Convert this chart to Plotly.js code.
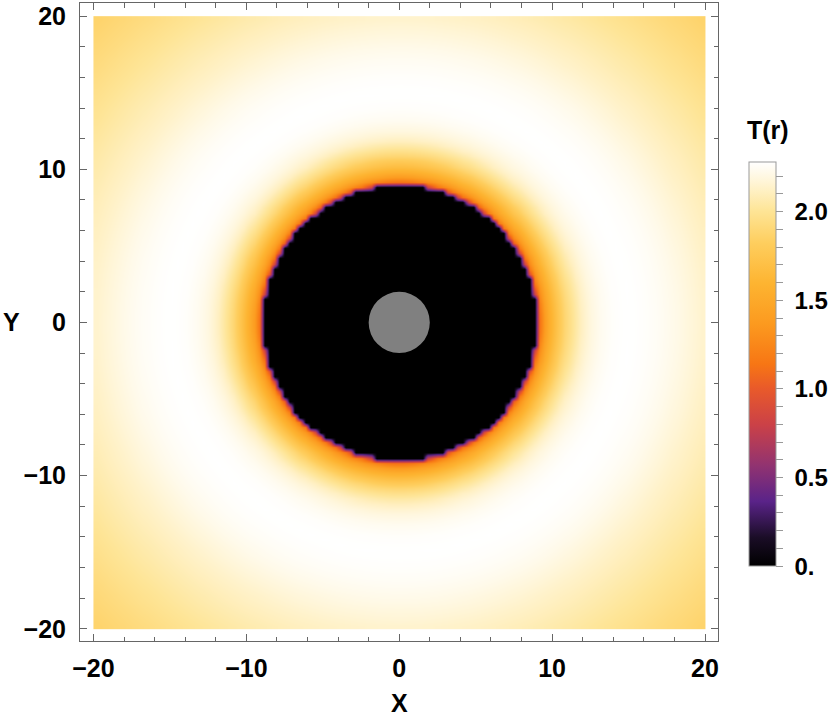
<!DOCTYPE html>
<html>
<head>
<meta charset="utf-8">
<script src="https://cdn.plot.ly/plotly-3.0.1.min.js"></script>
<style>html,body{margin:0;padding:0;background:#fff;}</style>
</head>
<body>
<div id="chart" style="width:837px;height:720px;"></div>
<script>
// Radial temperature profile T(r)
const rSamples = [0, 8.99, 9.0, 9.15, 9.3, 9.6, 9.9, 10.3, 10.8, 11.3, 11.9, 12.5, 13.2, 14.0, 15.0, 16.0, 17.0, 18.0, 19.0, 20.0, 22.0, 24.0, 26.0, 28.3];
const tSamples = [0, 0, 0.75, 1.10, 1.25, 1.45, 1.58, 1.72, 1.88, 2.00, 2.12, 2.19, 2.24, 2.27, 2.28, 2.27, 2.25, 2.22, 2.18, 2.14, 2.07, 2.00, 1.93, 1.86];
// Central excised disk radius
const innerRadius = [2];
// Colour bar ticks
const cbMajor = [0, 0.5, 1.0, 1.5, 2.0];
const cbMajorText = ['0.', '0.5', '1.0', '1.5', '2.0'];
const xTickVals = [-20, -10, 0, 10, 20];

function profile(r) {
  if (r < rSamples[2]) return 0;
  for (let i = 2; i < rSamples.length - 1; i++) {
    if (r <= rSamples[i + 1]) {
      const f = (r - rSamples[i]) / (rSamples[i + 1] - rSamples[i]);
      return tSamples[i] + f * (tSamples[i + 1] - tSamples[i]);
    }
  }
  return tSamples[tSamples.length - 1];
}

// grid of cell centres covering [-20, 20] exactly
const N = 120;
const grid = [];
for (let i = 0; i < N; i++) grid.push(-20 + 40 * (i + 0.5) / N);
const z = grid.map(y => grid.map(x => profile(Math.sqrt(x * x + y * y))));

// colour bar ticks every 0.1, labels only on majors
const cbVals = [], cbText = [];
for (let k = 0; k <= 22; k++) {
  const v = k / 10;
  cbVals.push(v);
  const idx = cbMajor.findIndex(m => Math.abs(m - v) < 1e-9);
  cbText.push(idx >= 0 ? '\u00a0' + cbMajorText[idx] : '');
}

const sunset = [
  [0.00, '#000000'],
  [0.07, '#1a0d26'],
  [0.16, '#5a2389'],
  [0.25, '#923370'],
  [0.35, '#cb4147'],
  [0.44, '#e95a2a'],
  [0.50, '#f77614'],
  [0.60, '#fc9a1f'],
  [0.70, '#fdb431'],
  [0.80, '#fece5e'],
  [0.88, '#fee597'],
  [0.95, '#fff5d6'],
  [1.00, '#ffffff']
];

const fontFam = '"Liberation Sans", Arial, sans-serif';
const boldFont = {family: fontFam, size: 25, color: '#000', weight: 'bold'};

const trace = {
  type: 'heatmap',
  x: grid, y: grid, z: z,
  zmin: 0, zmax: 2.28,
  colorscale: sunset,
  zsmooth: 'best',
  hoverinfo: 'skip',
  colorbar: {
    x: 1.049, xanchor: 'left', xpad: 0,
    y: 0.434, yanchor: 'middle', ypad: 0,
    len: 404, lenmode: 'pixels',
    thickness: 27, thicknessmode: 'pixels',
    outlinecolor: '#999', outlinewidth: 1,
    ticks: 'outside', ticklen: 7, tickcolor: '#999', tickwidth: 1,
    tickvals: cbVals, ticktext: cbText,
    tickfont: {family: fontFam, size: 24, color: '#000', weight: 'bold'},
    ticklabelposition: 'outside'
  }
};

const axisCommon = {
  showline: true, linecolor: '#666', linewidth: 1, mirror: 'allticks',
  ticks: 'inside', ticklen: 7, tickcolor: '#666', tickwidth: 1,
  showgrid: false, zeroline: false,
  tickvals: xTickVals,
  tickfont: boldFont,
  minor: {dtick: 2, tick0: 0, ticks: 'inside', ticklen: 4.5, tickcolor: '#666', tickwidth: 1, showgrid: false},
  ticklabelstandoff: 8
};

const layout = {
  width: 837, height: 720,
  margin: {l: 80, r: 119, t: 3, b: 79},
  paper_bgcolor: '#fff', plot_bgcolor: '#fff',
  xaxis: Object.assign({}, axisCommon, {range: [-20.88, 20.85], ticklabelstandoff: 5}),
  yaxis: Object.assign({}, axisCommon, {range: [-20.8, 20.86]}),
  shapes: [{
    type: 'circle', xref: 'x', yref: 'y',
    x0: -innerRadius[0], x1: innerRadius[0], y0: -innerRadius[0], y1: innerRadius[0],
    fillcolor: '#808080', line: {width: 0}
  }],
  annotations: [
    {text: 'X', xref: 'paper', yref: 'paper', x: 0.5, y: -0.097, showarrow: false, font: boldFont, xanchor: 'center', yanchor: 'middle'},
    {text: 'Y', xref: 'paper', yref: 'paper', x: -0.1066, y: 0.5, showarrow: false, font: boldFont, xanchor: 'center', yanchor: 'middle'},
    {text: 'T(r)', xref: 'paper', yref: 'paper', x: 1.0784, y: 0.801, showarrow: false, font: boldFont, xanchor: 'center', yanchor: 'middle'}
  ],
  showlegend: false
};

Plotly.newPlot('chart', [trace], layout, {displayModeBar: false, staticPlot: true});
</script>
</body>
</html>
